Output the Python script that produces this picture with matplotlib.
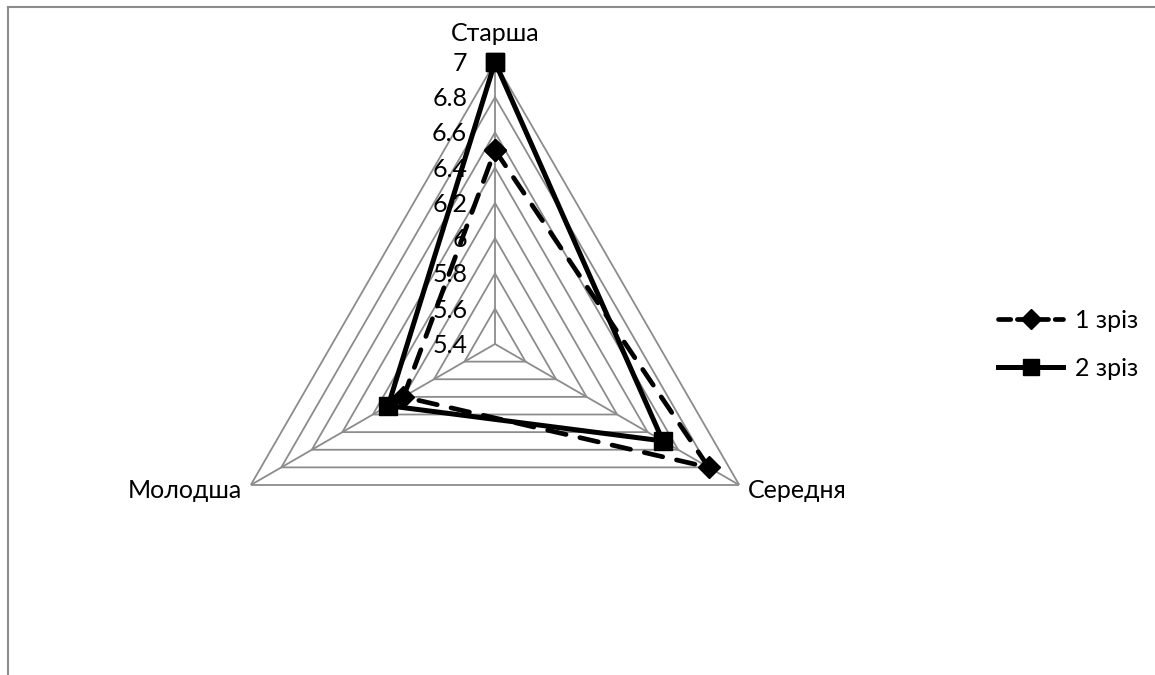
import numpy as np
import matplotlib
matplotlib.use("Agg")
import matplotlib.pyplot as plt
from matplotlib.lines import Line2D

categories = ["Старша", "Середня", "Молодша"]
zriz_1 = [6.5, 6.8, 6.0]
zriz_2 = [7.0, 6.5, 6.1]
series_names = ["1 зріз", "2 зріз"]
ticks = [5.4, 5.6, 5.8, 6.0, 6.2, 6.4, 6.6, 6.8, 7.0]
tick_labels = ["5.4", "5.6", "5.8", "6", "6.2", "6.4", "6.6", "6.8", "7"]

plt.rcParams["font.family"] = ["Lato", "DejaVu Sans"]

fig = plt.figure(figsize=(11.55, 6.75), dpi=100)
W, H = 1155, 675
cx, cy, R = 495, 344, 282
ax = fig.add_axes([(cx - R) / W, (H - cy - R) / H, 2 * R / W, 2 * R / H], projection="polar")
ax.set_theta_offset(np.pi / 2)
ax.set_theta_direction(-1)
ax.set_ylim(ticks[0], ticks[-1])
ax.grid(False)
ax.set_xticks([])
ax.set_yticks([])
ax.spines["polar"].set_visible(False)
ax.patch.set_alpha(0)

angles = np.linspace(0, 2 * np.pi, len(categories), endpoint=False)
closed = np.append(angles, angles[0])

# triangle grid
grey = "#8c8c8c"
for t in ticks[1:]:
    ax.plot(closed, [t] * len(closed), color=grey, lw=1.3, zorder=1)
for a in angles:
    ax.plot([a, a], [ticks[0], ticks[-1]], color=grey, lw=1.3, zorder=1)

fs = 18
# value labels on the vertical axis
for t, lab in zip(ticks, tick_labels):
    ax.annotate(lab, xy=(0, t), xytext=(-20, -1), textcoords="offset points",
                ha="right", va="center", fontsize=fs, zorder=2)

# category labels
ax.annotate(categories[0], xy=(angles[0], ticks[-1]), xytext=(0, 12), textcoords="offset points",
            ha="center", va="bottom", fontsize=fs)
ax.annotate(categories[1], xy=(angles[1], ticks[-1]), xytext=(6, -4), textcoords="offset points",
            ha="left", va="center", fontsize=fs)
ax.annotate(categories[2], xy=(angles[2], ticks[-1]), xytext=(-6, -4), textcoords="offset points",
            ha="right", va="center", fontsize=fs)

ax.plot(closed, zriz_1 + zriz_1[:1], color="black", lw=3.4, linestyle=(0, (4, 3)),
        dash_capstyle="round", marker="D", markersize=11, zorder=3, clip_on=False)
ax.plot(closed, zriz_2 + zriz_2[:1], color="black", lw=3.6, linestyle="-",
        marker="s", markersize=13, zorder=4, clip_on=False)

handles = [
    Line2D([], [], color="black", lw=3.4, linestyle=(0, (2.6, 1.4)), dash_capstyle="round",
           marker="D", markersize=10),
    Line2D([], [], color="black", lw=3.6, linestyle="-", marker="s", markersize=12),
]
fig.legend(handles, series_names, loc="center left", bbox_to_anchor=(0.845, 0.49),
           frameon=False, fontsize=fs, handlelength=2.6, labelspacing=1.0, handletextpad=0.45)

# chart border (top and left edges visible)
fig.add_artist(Line2D([8 / W, 1], [1 - 7 / H, 1 - 7 / H], color="#8c8c8c", lw=1.5))
fig.add_artist(Line2D([8 / W, 8 / W], [0, 1 - 7 / H], color="#8c8c8c", lw=1.5))

fig.savefig("out.png", dpi=100)
